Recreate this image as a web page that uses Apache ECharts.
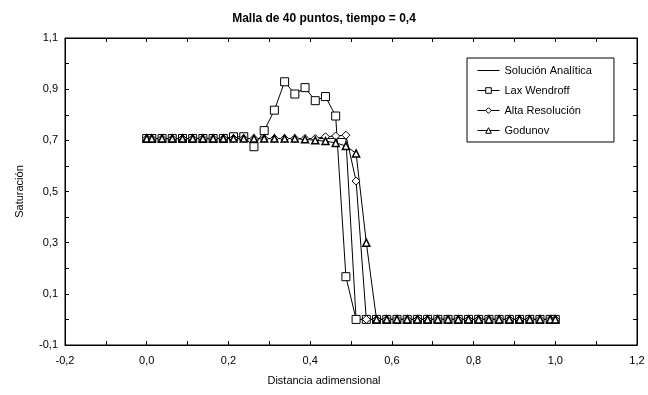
<!DOCTYPE html>
<html>
<head>
<meta charset="utf-8">
<script src="https://cdn.jsdelivr.net/npm/echarts@6/dist/echarts.min.js"></script>
<style>html,body{margin:0;padding:0;background:#fff}#c{width:648px;height:395px}</style>
</head>
<body>
<div id="c"></div>
<script>
const xPos = [0, 0.0125, 0.0375, 0.0625, 0.0875, 0.1125, 0.1375, 0.1625, 0.1875, 0.2125, 0.2375,
  0.2625, 0.2875, 0.3125, 0.3375, 0.3625, 0.3875, 0.4125, 0.4375, 0.4625, 0.4875,
  0.5125, 0.5375, 0.5625, 0.5875, 0.6125, 0.6375, 0.6625, 0.6875, 0.7125, 0.7375,
  0.7625, 0.7875, 0.8125, 0.8375, 0.8625, 0.8875, 0.9125, 0.9375, 0.9625, 0.9875, 1.0];

const analitica = [0.707,0.707,0.707,0.707,0.707,0.707,0.707,0.707,0.707,0.707,0.707,
  0.707,0.707,0.707,0.707,0.707,0.707,0.707,0.707,0.707,0.707,
  0,0,0,0,0,0,0,0,0,0,0,0,0,0,0,0,0,0,0,0,0];

const laxWendroff = [0.707,0.707,0.707,0.707,0.707,0.707,0.707,0.707,0.707,0.714,0.714,
  0.675,0.738,0.818,0.929,0.881,0.906,0.855,0.871,0.795,0.167,
  0,0,0,0,0,0,0,0,0,0,0,0,0,0,0,0,0,0,0,0,0];

const altaResolucion = [0.707,0.707,0.707,0.707,0.707,0.707,0.707,0.707,0.707,0.707,0.707,
  0.707,0.707,0.707,0.707,0.707,0.707,0.707,0.714,0.717,0.72,
  0.541,0,0,0,0,0,0,0,0,0,0,0,0,0,0,0,0,0,0,0,0];

const godunov = [0.707,0.707,0.707,0.707,0.707,0.707,0.707,0.707,0.707,0.707,0.707,
  0.707,0.707,0.707,0.707,0.707,0.704,0.70,0.697,0.69,0.678,
  0.649,0.30,0,0,0,0,0,0,0,0,0,0,0,0,0,0,0,0,0,0,0];

const seriesNames = ['Solución Analítica', 'Lax Wendroff', 'Alta Resolución', 'Godunov'];
const titleText = 'Malla de 40 puntos, tiempo = 0,4';
const xName = 'Distancia adimensional';
const yName = 'Saturación';

function pairs(arr) { return xPos.map((x, i) => [x, arr[i]]); }
const fmt = v => v.toFixed(1).replace('.', ',');
const FONT = 'Liberation Sans';

const chart = echarts.init(document.getElementById('c'), null, {renderer: 'canvas'});
const lineBase = {type: 'line', lineStyle: {color: '#000', width: 1}, itemStyle: {color: '#fff', borderColor: '#000', borderWidth: 1}, showSymbol: true, animation: false, z: 3};
chart.setOption({
  animation: false,
  backgroundColor: '#fff',
  title: {text: titleText, left: 'center', top: 8,
    textStyle: {fontFamily: FONT, fontSize: 12, fontWeight: 'bold', color: '#000'}},
  grid: {left: 65, right: 11, top: 38, bottom: 50, show: true, borderColor: '#000', borderWidth: 1},
  legend: {
    orient: 'vertical', left: 467, top: 58,
    backgroundColor: '#fff', borderColor: '#000', borderWidth: 1,
    padding: [7, 22, 6, 10], itemGap: 9, itemWidth: 22, itemHeight: 7,
    lineStyle: {width: 1, color: '#000'},
    itemStyle: {borderWidth: 1},
    textStyle: {fontFamily: FONT, fontSize: 11, color: '#000'},
    data: [
      {name: seriesNames[0], icon: 'path://M0,0H22V1H0Z', itemStyle: {color: '#000', borderWidth: 0}},
      seriesNames[1], seriesNames[2], seriesNames[3]
    ]
  },
  xAxis: [{
    type: 'value', min: -0.2, max: 1.2, interval: 0.1,
    name: xName, nameLocation: 'middle', nameGap: 30,
    nameTextStyle: {fontFamily: FONT, fontSize: 11, color: '#000', padding: [0, 54, 0, 0]},
    axisLine: {onZero: false, lineStyle: {color: '#000'}},
    axisTick: {inside: true, length: 4, lineStyle: {color: '#000'}},
    splitLine: {show: false},
    axisLabel: {margin: 10, fontFamily: FONT, fontSize: 11, color: '#000',
      formatter: v => (Math.round(v * 10) % 2 === 0 ? fmt(v) : '')}
  }, {
    type: 'value', position: 'top', min: -0.2, max: 1.2, interval: 0.1,
    axisLine: {show: true, onZero: false, lineStyle: {color: '#000'}},
    axisTick: {inside: true, length: 4, lineStyle: {color: '#000'}},
    axisLabel: {show: false}, splitLine: {show: false}
  }],
  yAxis: [{
    type: 'value', min: -0.1, max: 1.1, interval: 0.1,
    name: yName, nameLocation: 'middle', nameGap: 40,
    nameTextStyle: {fontFamily: FONT, fontSize: 11, color: '#000'},
    axisLine: {show: true, onZero: false, lineStyle: {color: '#000'}},
    axisTick: {show: true, inside: true, length: 4, lineStyle: {color: '#000'}},
    splitLine: {show: false},
    axisLabel: {margin: 7, fontFamily: FONT, fontSize: 11, color: '#000',
      formatter: v => (Math.abs(Math.round(v * 10)) % 2 === 1 ? fmt(v) : '')}
  }, {
    type: 'value', position: 'right', min: -0.1, max: 1.1, interval: 0.1,
    axisLine: {show: true, onZero: false, lineStyle: {color: '#000'}},
    axisTick: {show: true, inside: true, length: 4, lineStyle: {color: '#000'}},
    axisLabel: {show: false}, splitLine: {show: false}
  }],
  series: [
    Object.assign({}, lineBase, {name: seriesNames[0], data: pairs(analitica), symbol: 'none'}),
    Object.assign({}, lineBase, {name: seriesNames[1], data: pairs(laxWendroff), symbol: 'rect', symbolSize: 8}),
    Object.assign({}, lineBase, {name: seriesNames[2], data: pairs(altaResolucion), symbol: 'diamond', symbolSize: [8, 8]}),
    Object.assign({}, lineBase, {name: seriesNames[3], data: pairs(godunov), symbol: 'triangle', symbolSize: 7, itemStyle: {color: '#fff', borderColor: '#000', borderWidth: 1.5}})
  ]
});
</script>
</body>
</html>
